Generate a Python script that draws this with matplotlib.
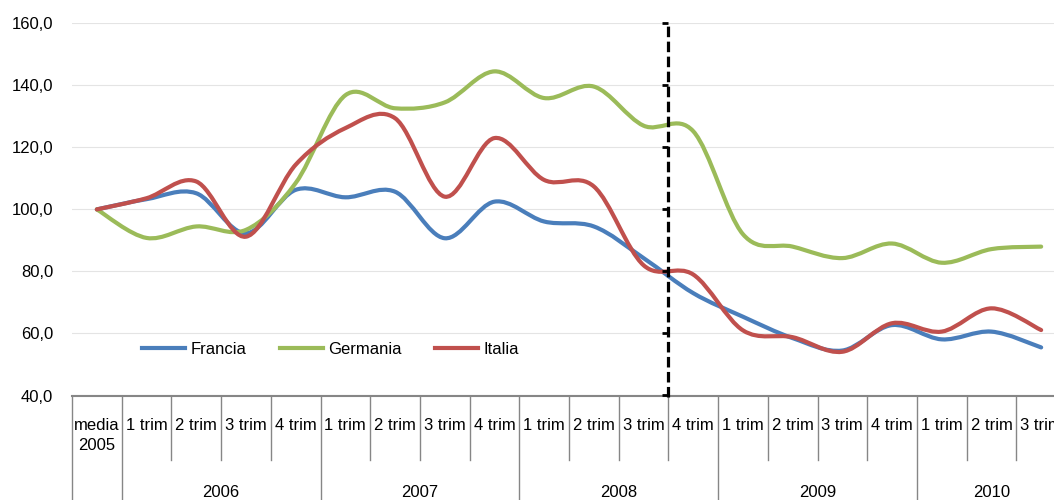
import numpy as np
import matplotlib
matplotlib.use('Agg')
import matplotlib.pyplot as plt
import matplotlib.transforms as mtransforms
from matplotlib.path import Path
from matplotlib.patches import PathPatch
from matplotlib.lines import Line2D

plt.rcParams['font.family'] = ['Liberation Sans', 'DejaVu Sans']

# Data
quarters = ['media\n2005'] + ['1 trim', '2 trim', '3 trim', '4 trim'] * 4 + ['1 trim', '2 trim', '3 trim']
years = ['2006', '2007', '2008', '2009', '2010']
year_counts = [4, 4, 4, 4, 3]

francia = [100.0, 103.3, 105.2, 92.3, 106.3, 103.9, 105.7, 90.7, 102.5, 96.1,
           94.5, 84.3, 73.0, 65.4, 58.5, 54.5, 62.7, 58.1, 60.6, 55.5]
germania = [100.0, 90.8, 94.5, 93.4, 108.5, 136.8, 132.6, 134.5, 144.5, 135.9,
            139.6, 127.0, 125.2, 92.0, 88.0, 84.3, 89.0, 82.8, 87.2, 88.0]
italia = [100.0, 103.6, 109.0, 91.2, 114.4, 126.2, 129.4, 104.1, 123.0, 109.5,
          107.4, 82.0, 79.0, 61.0, 58.8, 54.1, 63.3, 60.6, 68.1, 61.1]

series_names = ['Francia', 'Germania', 'Italia']
series_colors = ['#4a7ebb', '#9bbb59', '#c0504d']

y_ticks = [40, 60, 80, 100, 120, 140, 160]
y_tick_labels = ['40,0', '60,0', '80,0', '100,0', '120,0', '140,0', '160,0']

# the dashed marker sits between "3 trim" and "4 trim" 2008
break_after = 11


def smooth_path(ys):
    # Excel style smoothed line: cubic bezier through every point
    pts = np.column_stack([np.arange(len(ys)), ys]).astype(float)
    n = len(pts)
    verts = [pts[0]]
    codes = [Path.MOVETO]
    for i in range(n - 1):
        p0 = pts[max(i - 1, 0)]
        p1 = pts[i]
        p2 = pts[i + 1]
        p3 = pts[min(i + 2, n - 1)]
        verts += [p1 + (p2 - p0) / 6, p2 - (p3 - p1) / 6, p2]
        codes += [Path.CURVE4] * 3
    return Path(verts, codes)


fig = plt.figure(figsize=(10.54, 5.0), dpi=100)
ax = fig.add_axes([72 / 1054, 104.5 / 500, 982 / 1054, 372.2 / 500])

ax.set_xlim(-0.5, -0.5 + 982 / 49.7)
ax.set_ylim(40, 160)

for vals, name, col in zip([francia, germania, italia], series_names, series_colors):
    ax.add_patch(PathPatch(smooth_path(vals), facecolor='none', edgecolor=col,
                           lw=3.0, capstyle='round', joinstyle='round', zorder=3))

# y axis
ax.set_yticks(y_ticks)
ax.set_yticklabels(y_tick_labels, fontsize=12)
ax.tick_params(axis='y', length=0, pad=13.5)
ax.grid(axis='y', color='#e4e4e4', lw=0.8)
ax.set_axisbelow(True)
ax.set_xticks([])
for side in ['left', 'top', 'right']:
    ax.spines[side].set_visible(False)
ax.spines['bottom'].set_color('#868686')
ax.spines['bottom'].set_linewidth(1.5)

# dashed vertical line with small ticks
ax.axvline(break_after + 0.5, ymin=-0.003, ymax=1.003, color='black', lw=2.3,
           dashes=(3.3, 1.4), zorder=4, clip_on=False)
ax.plot([break_after + 0.5] * len(y_ticks), y_ticks, ls='none', marker=0,
        ms=4, mew=2, color='black', zorder=4, clip_on=False)

# category table below the axis
trans = mtransforms.blended_transform_factory(ax.transData, ax.transAxes)
year_starts = [1]
for c in year_counts[:-1]:
    year_starts.append(year_starts[-1] + c)
full_lines = [0, 1] + year_starts[1:] + [len(quarters)]
for k in range(len(quarters) + 1):
    bottom = -0.285 if k in full_lines else -0.172
    ax.plot([k - 0.5, k - 0.5], [0, bottom], color='#868686', lw=1.0,
            transform=trans, clip_on=False)

for i, lab in enumerate(quarters):
    for j, part in enumerate(lab.split('\n')):
        ax.text(i, -0.0915 - 0.0556 * j, part, transform=trans, ha='center',
                va='baseline', fontsize=12)

for start, cnt, yr in zip(year_starts, year_counts, years):
    ax.text(start + (cnt - 1) / 2, -0.272, yr, transform=trans, ha='center',
            va='baseline', fontsize=12)

handles = [Line2D([], [], color=c, lw=3.0) for c in series_colors]
ax.legend(handles, series_names, loc='center left', bbox_to_anchor=(0.0713, 0.123),
          ncol=3, frameon=False, fontsize=12, handlelength=2.6, handletextpad=0.3,
          columnspacing=2.0, borderpad=0, borderaxespad=0)

fig.savefig('out.png', dpi=100)
